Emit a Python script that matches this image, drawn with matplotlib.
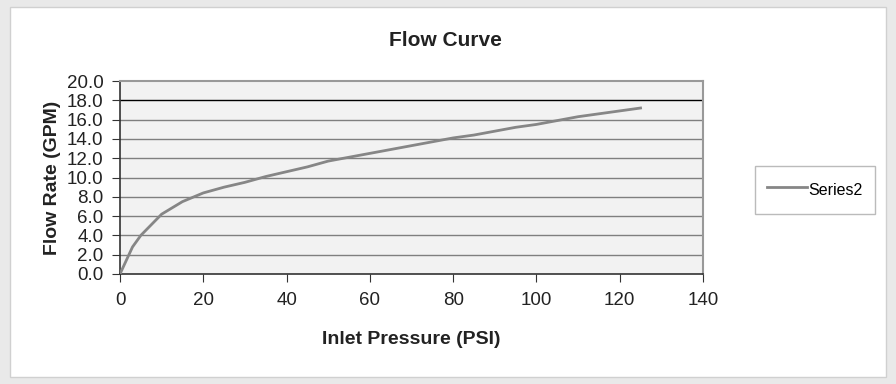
import matplotlib.pyplot as plt
from matplotlib.patches import Rectangle

plt.rcParams['font.family'] = ['Liberation Sans', 'DejaVu Sans']

# data
pressure = [0, 3, 5, 10, 15, 20, 25, 30, 35, 40, 45, 50, 55, 60, 65, 70,
            75, 80, 85, 90, 95, 100, 105, 110, 115, 120, 125]
flow = [0.0, 2.8, 4.0, 6.2, 7.5, 8.4, 9.0, 9.5, 10.1, 10.6, 11.1, 11.7, 12.1,
        12.5, 12.9, 13.3, 13.7, 14.1, 14.4, 14.8, 15.2, 15.5, 15.9, 16.3,
        16.6, 16.9, 17.2]
x_ticks = [0, 20, 40, 60, 80, 100, 120, 140]
y_ticks = [0, 2, 4, 6, 8, 10, 12, 14, 16, 18, 20]

fig = plt.figure(figsize=(8.96, 3.84), dpi=100)
fig.patch.set_facecolor('#e9e9e9')
fig.patches.append(Rectangle((10 / 896, 1 - 377 / 384), 876 / 896, 370 / 384,
                             transform=fig.transFigure, facecolor='white',
                             edgecolor='#d0d0d0', lw=1, zorder=-10))

ax = fig.add_axes([120 / 896, 1 - 274 / 384, 583 / 896, 193 / 384])
ax.set_facecolor('#f2f2f2')

# horizontal grid lines
for y in y_ticks[1:-1]:
    ax.axhline(y, color='black' if y == 18 else '#7f7f7f', lw=1, zorder=1)

ax.plot(pressure, flow, color='#868686', lw=2, label='Series2', zorder=3)

ax.set_xlim(0, 140)
ax.set_ylim(0, 20)
ax.set_xticks(x_ticks)
ax.set_yticks(y_ticks)
ax.set_yticklabels([f'{v:.1f}' for v in y_ticks])
ax.tick_params(axis='both', direction='out', length=6, color='#333333',
               labelsize=13.5, colors='#222222')
ax.tick_params(axis='x', pad=7)
ax.tick_params(axis='y', pad=6)

for side in ['left', 'bottom']:
    ax.spines[side].set_color('#333333')
    ax.spines[side].set_linewidth(1.2)
for side in ['top', 'right']:
    ax.spines[side].set_color('#999999')
    ax.spines[side].set_linewidth(1.5)

fig.text(445 / 896, 1 - 40 / 384, 'Flow Curve', ha='center', va='center',
         fontsize=15, fontweight='bold', color='#222222')
ax.set_xlabel('Inlet Pressure (PSI)', fontsize=14, fontweight='bold',
              color='#222222', labelpad=16)
ax.set_ylabel('Flow Rate (GPM)', fontsize=14, fontweight='bold',
              color='#222222', labelpad=4)

leg = fig.legend(*ax.get_legend_handles_labels(), loc='center left',
                 bbox_to_anchor=(755 / 896, 1 - 190 / 384),
                 frameon=True, fancybox=False,
                 fontsize=11.5, handlelength=2.5, handletextpad=0.1,
                 handleheight=1.9, borderpad=0.75, borderaxespad=0)
leg.get_frame().set_edgecolor('#aaaaaa')
leg.get_frame().set_linewidth(1)

plt.savefig('out.png', dpi=100, facecolor=fig.get_facecolor())
